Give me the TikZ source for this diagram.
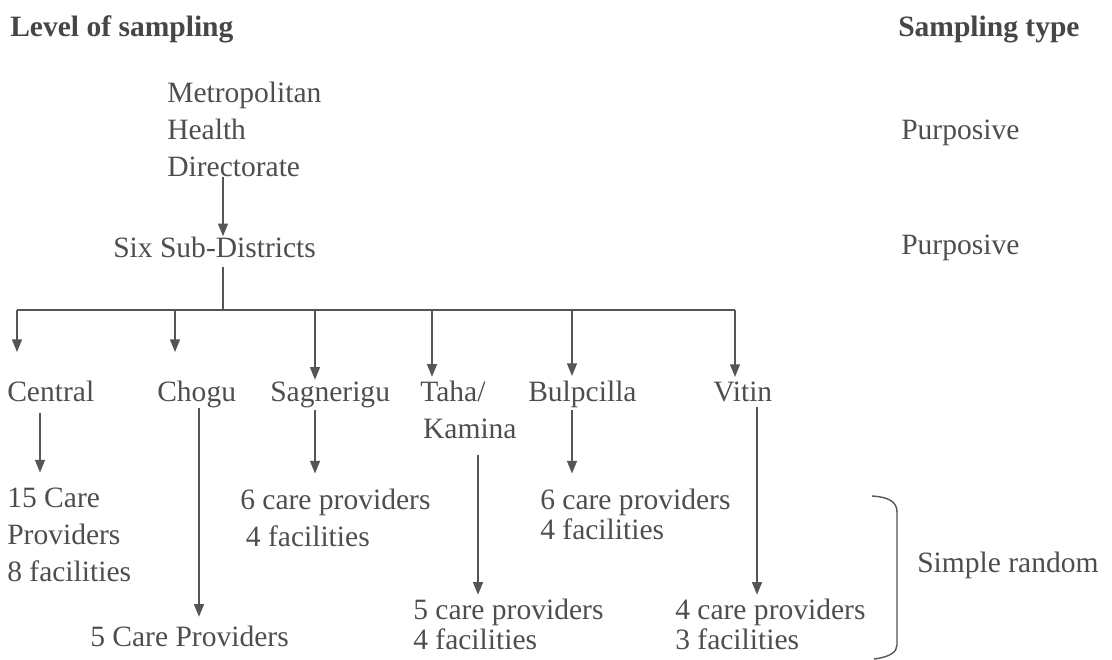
\documentclass[tikz,border=0pt]{standalone}
\usepackage{fontspec}
\setmainfont{Liberation Serif}
\usetikzlibrary{arrows.meta, positioning}
\definecolor{inkgray}{RGB}{78,78,78}
\definecolor{headgray}{RGB}{70,70,70}
\definecolor{linegray}{RGB}{85,85,85}

\begin{document}
\begin{tikzpicture}[x=0.025cm, y=-0.025cm,
  every node/.style={inner sep=0pt, text=inkgray, font=\fontsize{21}{26.3}\selectfont},
  head/.style={anchor=base west, text=headgray, font=\fontsize{21}{26.3}\selectfont\bfseries},
  item/.style={anchor=base west},
  block/.style={anchor=north west, align=left},
  tight/.style={font=\fontsize{21}{21}\selectfont},
  link/.style={draw=linegray, line width=1.2pt},
  arr/.style={link, -{Triangle[length=9pt, width=7pt]}}]
  \useasboundingbox (0,0) rectangle (1112,659);

  % Column heads
  \node[head] (level) at (10,36) {Level of sampling};
  \node[head] (stype) at (898,36) {Sampling type};

  % Top levels
  \node[block] (mhd) at (167,82) {Metropolitan\\Health\\Directorate};
  \node[item] (purp1) at (901,139) {Purposive};
  \node[item] (six) at (113,257) {Six Sub-Districts};
  \node[item] (purp2) at (901,254) {Purposive};

  % Sub-districts
  \node[item] (central) at (7,401) {Central};
  \node[item] (chogu) at (157,401) {Chogu};
  \node[item] (sagn) at (270,401) {Sagnerigu};
  \node[block] (taha) at (420,381) {Taha/\\\hspace*{2pt}Kamina};
  \node[item] (bulp) at (528,401) {Bulpcilla};
  \node[item] (vitin) at (713,401) {Vitin};

  % Samples
  \node[block] (cp15) at (7,488) {15 Care\\Providers\\8 facilities};
  \node[block] (cp6a) at (240,489) {6 care providers\\\hspace*{4pt}4 facilities};
  \node[block, tight] (cp6b) at (540,489) {6 care providers\\4 facilities};
  \node[item] (cp5a) at (90,646) {5 Care Providers};
  \node[block, tight] (cp5b) at (413,599) {5 care providers\\4 facilities};
  \node[block, tight] (cp4) at (675,599) {4 care providers\\3 facilities};
  \node[item] (simple) at (917,572) {Simple random};

  % Bar and drop points
  \coordinate (b0) at (223,310);
  \coordinate (b1) at (17,310);
  \coordinate (b2) at (175,310);
  \coordinate (b3) at (315,310);
  \coordinate (b4) at (432,310);
  \coordinate (b5) at (572,310);
  \coordinate (b6) at (735,310);
  \coordinate (k1) at (40,0);
  \coordinate (k2) at (199,0);
  \coordinate (k3) at (315,0);
  \coordinate (k4) at (478,0);
  \coordinate (k5) at (572,0);
  \coordinate (k6) at (757,0);

  \draw[arr] (mhd.south -| b0) -- (six.north -| b0);
  \draw[link, shorten <=7pt] (six.south -| b0) -- (b0);
  \draw[link] (b1) -- (b6);
  \draw[arr, shorten >=20pt] (b1) -- (central.north -| b1);
  \draw[arr, shorten >=20pt] (b2) -- (chogu.north -| b2);
  \draw[arr, shorten >=1pt] (b3) -- (sagn.north -| b3);
  \draw[arr, shorten >=3pt] (b4) -- (taha.north -| b4);
  \draw[arr, shorten >=3pt] (b5) -- (bulp.north -| b5);
  \draw[arr, shorten >=3pt] (b6) -- (vitin.north -| b6);

  \draw[arr, shorten <=8pt, shorten >=11pt] (central.south -| k1) -- (cp15.north -| k1);
  \draw[arr, shorten >=6pt] (chogu.south -| k2) -- (cp5a.north -| k2);
  \draw[arr, shorten <=2pt, shorten >=11pt] (sagn.south -| k3) -- (cp6a.north -| k3);
  \draw[arr, shorten <=11pt, shorten >=3pt] (taha.south -| k4) -- (cp5b.north -| k4);
  \draw[arr, shorten <=2pt, shorten >=11pt] (bulp.south -| k5) -- (cp6b.north -| k5);
  \draw[arr, shorten <=4pt, shorten >=3pt] (vitin.south -| k6) -- (cp4.north -| k6);

  % Bracket
  \draw[link, line width=1pt] (872,496) .. controls (889,497) and (897,502) .. (897,512)
    -- (897,645) .. controls (897,652) and (890,657) .. (874,659);
\end{tikzpicture}
\end{document}
